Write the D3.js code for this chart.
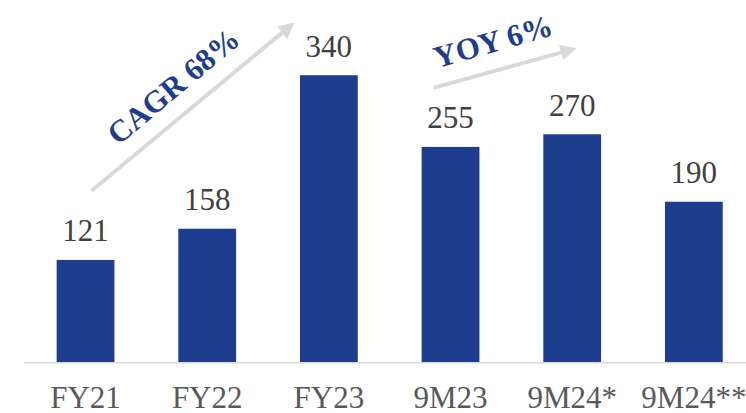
<!DOCTYPE html>
<html>
<head>
<meta charset="utf-8">
<script src="https://cdn.jsdelivr.net/npm/d3@7"></script>
<style>
  body { margin: 0; background: #fff; }
  svg { display: block; font-family: "Liberation Serif", "Times New Roman", serif; }
</style>
</head>
<body>
<svg class="chart" width="746" height="413"></svg>
<script>
// Chart data
const categories = ['FY21', 'FY22', 'FY23', '9M23', '9M24*', '9M24**'];
const values = [121, 158, 340, 255, 270, 190];
const growthLabels = ['CAGR 68%', 'YOY 6%'];

const svg = d3.select('svg.chart');
const barColor = '#1f3d8e';

const x = d3.scaleBand()
  .domain(categories)
  .range([24.7, 754.7])
  .paddingInner(0.525)
  .paddingOuter(0.2625);

const y = d3.scaleLinear()
  .domain([0, 400])
  .range([362, 24.6]);

// Bars
svg.selectAll('rect.bar')
  .data(values)
  .enter()
  .append('rect')
  .attr('class', 'bar')
  .attr('x', (d, i) => x(categories[i]))
  .attr('y', d => y(d))
  .attr('width', x.bandwidth())
  .attr('height', d => y(0) - y(d))
  .attr('fill', barColor);

// Baseline
svg.append('line')
  .attr('x1', 24)
  .attr('x2', 746)
  .attr('y1', y(0) + 0.8)
  .attr('y2', y(0) + 0.8)
  .attr('stroke', '#d9d9d9')
  .attr('stroke-width', 1.6);

// Value labels above bars
svg.selectAll('text.value')
  .data(values)
  .enter()
  .append('text')
  .attr('class', 'value')
  .attr('x', (d, i) => x(categories[i]) + x.bandwidth() / 2)
  .attr('y', d => y(d) - 18.5)
  .attr('text-anchor', 'middle')
  .attr('font-size', 31)
  .attr('fill', '#404040')
  .text(d => d);

// Category labels
svg.selectAll('text.cat')
  .data(categories)
  .enter()
  .append('text')
  .attr('class', 'cat')
  .attr('x', d => x(d) + x.bandwidth() / 2)
  .attr('y', 408)
  .attr('text-anchor', 'middle')
  .attr('font-size', 31)
  .attr('fill', '#595959')
  .text(d => d);

// Arrow heads
svg.append('defs')
  .append('marker')
  .attr('id', 'head')
  .attr('viewBox', '0 0 10 10')
  .attr('refX', 8)
  .attr('refY', 5)
  .attr('markerWidth', 4)
  .attr('markerHeight', 4)
  .attr('markerUnits', 'strokeWidth')
  .attr('orient', 'auto')
  .append('path')
  .attr('d', 'M0,0 L10,5 L0,10 Z')
  .attr('fill', '#d9d9d9');

// Growth arrows, anchored to the bars they span
const mid = c => x(c) + x.bandwidth() / 2;
const arrows = [
  { x1: mid('FY21') + 6, y1: y(203), x2: x('FY23') - 8, y2: y(400) },
  { x1: x('9M23') + 12, y1: y(325), x2: x('9M24*') + 30, y2: y(371) }
];

svg.selectAll('line.arrow')
  .data(arrows)
  .enter()
  .append('line')
  .attr('class', 'arrow')
  .attr('x1', d => d.x1)
  .attr('y1', d => d.y1)
  .attr('x2', d => d.x2)
  .attr('y2', d => d.y2)
  .attr('stroke', '#d9d9d9')
  .attr('stroke-width', 4)
  .attr('marker-end', 'url(#head)');

// Growth labels, rotated along the arrows
const labelPos = [
  { x: 173, y: 86, angle: -40 },
  { x: 493, y: 41, angle: -16 }
];

svg.selectAll('text.growth')
  .data(growthLabels)
  .enter()
  .append('text')
  .attr('class', 'growth')
  .attr('transform', (d, i) => `translate(${labelPos[i].x},${labelPos[i].y}) rotate(${labelPos[i].angle})`)
  .attr('text-anchor', 'middle')
  .attr('dy', '0.35em')
  .attr('font-size', 31)
  .attr('font-weight', 'bold')
  .attr('fill', '#1f3d8e')
  .text(d => d);
</script>
</body>
</html>
